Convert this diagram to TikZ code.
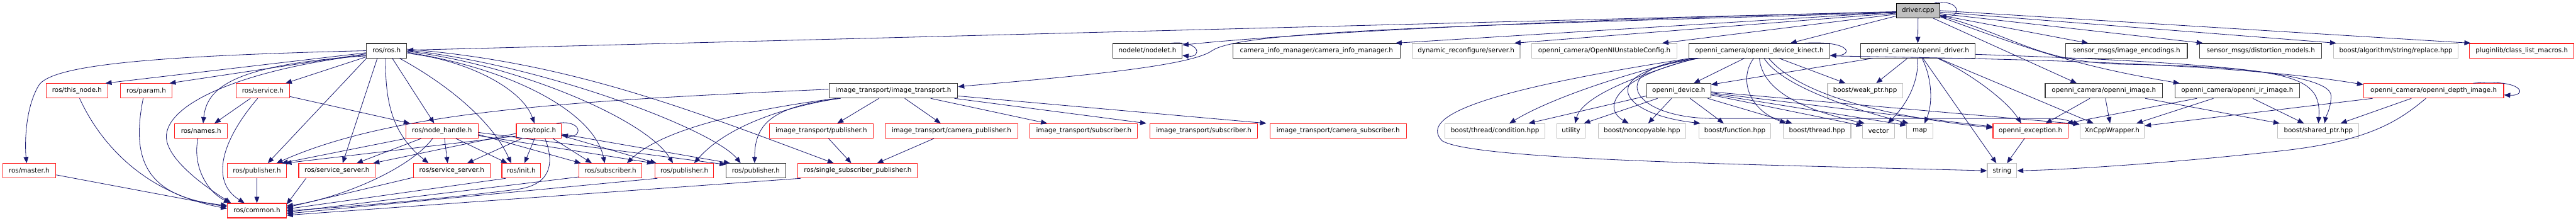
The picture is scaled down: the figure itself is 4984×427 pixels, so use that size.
\documentclass[tikz,border=0pt]{standalone}
\usepackage{fontspec}
\setmainfont{DejaVu Sans}
\usetikzlibrary{arrows.meta,calc}
\definecolor{edgeblue}{HTML}{191970}
\definecolor{nodeblack}{HTML}{3A3A3A}
\definecolor{nodegray}{HTML}{BFBFBF}
\definecolor{nodered}{HTML}{FF2020}
\definecolor{drvfill}{HTML}{BFBFBF}
\tikzset{
 nd/.style={draw, line width=1.3pt, minimum height=28pt, inner sep=0pt, anchor=center, font=\fontsize{12.6}{14}\selectfont},
 nblack/.style={nd, draw=nodeblack},
 nred/.style={nd, draw=nodered},
 ngray/.style={nd, draw=nodegray},
 e/.style={draw=edgeblue, line width=1pt, -{Triangle[length=12pt,width=9.5pt]}},
}
\begin{document}
\begin{tikzpicture}[x=1pt,y=-1pt]
\useasboundingbox (0,0) rectangle (4984,427);
% row 0
\node[nd, draw=black, fill=drvfill, minimum width=84pt] (driver) at (3711,20.5) {driver.cpp};
% row 1
\node[nblack, minimum width=78pt] (ros) at (748,98) {ros/ros.h};
\node[nblack, minimum width=134pt] (nodelet) at (2220,98) {nodelet/nodelet.h};
\node[nblack, minimum width=324pt] (cim) at (2547,98) {camera\_info\_manager/camera\_info\_manager.h};
\node[ngray, minimum width=209pt] (dyn) at (2836.5,98) {dynamic\_reconfigure/server.h};
\node[ngray, minimum width=280pt] (unst) at (3104,98) {openni\_camera/OpenNIUnstableConfig.h};
\node[nblack, minimum width=272pt] (kinect) at (3404,98) {openni\_camera/openni\_device\_kinect.h};
\node[nblack, minimum width=221pt] (odriver) at (3710.5,98) {openni\_camera/openni\_driver.h};
\node[nblack, minimum width=235pt] (enc) at (4114.5,98) {sensor\_msgs/image\_encodings.h};
\node[nblack, minimum width=236pt] (dist) at (4374,98) {sensor\_msgs/distortion\_models.h};
\node[ngray, minimum width=241pt] (repl) at (4635.5,98) {boost/algorithm/string/replace.hpp};
\node[nred, minimum width=202pt] (plug) at (4879,98) {pluginlib/class\_list\_macros.h};
% row 2
\node[nred, minimum width=120pt] (thisnode) at (149,175.5) {ros/this\_node.h};
\node[nred, minimum width=100pt] (param) at (283,175.5) {ros/param.h};
\node[nred, minimum width=103pt] (service) at (508.5,175.5) {ros/service.h};
\node[nblack, minimum width=249pt] (itrans) at (1728.5,175.5) {image\_transport/image\_transport.h};
\node[nblack, minimum width=124pt] (odev) at (3248,175.5) {openni\_device.h};
\node[ngray, minimum width=145pt] (weak) at (3608.5,175.5) {boost/weak\_ptr.hpp};
\node[nblack, minimum width=227pt] (oimg) at (4070.5,175.5) {openni\_camera/openni\_image.h};
\node[nblack, minimum width=241pt] (oir) at (4328.5,175.5) {openni\_camera/openni\_ir\_image.h};
\node[nred, minimum width=271pt] (odepth) at (4708.5,175.5) {openni\_camera/openni\_depth\_image.h};
% row 3
\node[nred, minimum width=102pt] (names) at (389,253) {ros/names.h};
\node[nred, minimum width=140pt] (nh) at (855,253) {ros/node\_handle.h};
\node[nred, minimum width=87pt] (topic) at (1042.5,253) {ros/topic.h};
\node[nred, minimum width=200pt] (itpub) at (1589,253) {image\_transport/publisher.h};
\node[nred, minimum width=256pt] (itcampub) at (1841,253) {image\_transport/camera\_publisher.h};
\node[nred, minimum width=208pt] (itsub1) at (2097,253) {image\_transport/subscriber.h};
\node[nred, minimum width=208pt] (itsub2) at (2329,253) {image\_transport/subscriber.h};
\node[nred, minimum width=264pt] (itcamsub) at (2589,253) {image\_transport/camera\_subscriber.h};
\node[ngray, minimum width=193pt] (cond) at (2892.5,253) {boost/thread/condition.hpp};
\node[ngray, minimum width=55pt] (util) at (3039.5,253) {utility};
\node[ngray, minimum width=170pt] (noncopy) at (3177,253) {boost/noncopyable.hpp};
\node[ngray, minimum width=139pt] (func) at (3356.5,253) {boost/function.hpp};
\node[ngray, minimum width=131pt] (thread) at (3515.5,253) {boost/thread.hpp};
\node[ngray, minimum width=61pt] (vector) at (3634.5,253) {vector};
\node[ngray, minimum width=51pt] (map) at (3714.5,253) {map};
\node[nred, minimum width=145pt] (exc) at (3928.5,253) {openni\_exception.h};
\node[ngray, minimum width=125pt] (xn) at (4086.5,253) {XnCppWrapper.h};
\node[ngray, minimum width=157pt] (shared) at (4485.5,253) {boost/shared\_ptr.hpp};
% row 4
\node[nred, minimum width=103pt] (master) at (56.5,330) {ros/master.h};
\node[nred, minimum width=114pt] (pub1) at (497,330) {ros/publisher.h};
\node[nred, minimum width=148pt] (ss1) at (652,330) {ros/service\_server.h};
\node[nred, minimum width=148pt] (ss2) at (874,330) {ros/service\_server.h};
\node[nred, minimum width=75pt] (init) at (1008.5,330) {ros/init.h};
\node[nred, minimum width=122pt] (sub) at (1181,330) {ros/subscriber.h};
\node[nred, minimum width=114pt] (pub2) at (1324,330) {ros/publisher.h};
\node[nblack, minimum width=115pt] (pubb) at (1462.5,330) {ros/publisher.h};
\node[nred, minimum width=231pt] (ssp) at (1659.5,330) {ros/single\_subscriber\_publisher.h};
\node[ngray, minimum width=57pt] (string) at (3873.5,330) {string};
% row 5
\node[nred, minimum width=114pt] (common) at (497,407) {ros/common.h};

% ---------- driver.cpp
\draw[e] ([xshift=32pt]driver.north) .. controls (3795,-2) and (3795,34) .. ([yshift=-11pt]driver.east);
\draw[e] ([yshift=-2pt]driver.west) -- ([yshift=1pt]ros.east);
\draw[e] ([yshift=-3pt]driver.west) .. controls (2900,40) and (2450,70) .. ([yshift=11pt]nodelet.east);
\draw[e] ([yshift=-4pt]driver.west) .. controls (2800,50) and (2400,60) .. (2345,98) .. controls (2300,130) and (2050,150) .. ([yshift=8pt]itrans.east);
\draw[e] ([yshift=-3pt]driver.west) -- ([xshift=153pt]cim.north);
\draw[e] ([yshift=-5pt]driver.west) -- ([xshift=93.5pt]dyn.north);
\draw[e] ([yshift=-7pt]driver.west) -- ([xshift=112pt]unst.north);
\draw[e] ([yshift=-10.5pt]driver.west) -- ([xshift=60pt]kinect.north);
\draw[e] (driver.south) -- (odriver.north);
\draw[e] ([yshift=-9pt]driver.east) -- ([xshift=-74.5pt]enc.north);
\draw[e] ([yshift=-6pt]driver.east) -- ([xshift=-112pt]dist.north);
\draw[e] ([yshift=-3pt]driver.east) -- ([xshift=-115.5pt]repl.north);
\draw[e] (driver.east) -- ([xshift=-99pt]plug.north);
\draw[e] ([xshift=29pt]driver.south) -- ([xshift=-52.5pt]oimg.north);
\draw[e] ([yshift=-12pt]driver.east) .. controls (3900,85) and (4000,125) .. ([xshift=-111.5pt]oir.north);
\draw[e] ([yshift=-10pt]driver.east) .. controls (3900,70) and (3940,118) .. (4100,124) .. controls (4440,130) and (4492,150) .. (shared.north);

% ---------- nodelet
\draw[e] ([xshift=45pt]nodelet.north) .. controls (2325,78) and (2325,112) .. ([yshift=-9pt]nodelet.east);

% ---------- openni_device_kinect
\draw[e] ([xshift=86pt]kinect.north) .. controls (3585,78) and (3585,108) .. ([yshift=-9pt]kinect.east);
\draw[e] ([xshift=-29pt]kinect.south) -- ([xshift=29pt]odev.north);
\draw[e] ([xshift=-130pt]kinect.south) .. controls (3150,140) and (3000,190) .. ([xshift=28pt]cond.north);
\draw[e] ([xshift=-124pt]kinect.south) .. controls (3150,150) and (3060,190) .. ([xshift=8pt]util.north);
\draw[e] ([xshift=-119pt]kinect.south) .. controls (3120,150) and (3100,210) .. ([xshift=-26pt]noncopy.north);
\draw[e] ([xshift=-114pt]kinect.south) .. controls (3080,140) and (3130,220) .. ([xshift=-67pt]func.north);
\draw[e] ([xshift=-11pt]kinect.south) .. controls (3365,150) and (3380,210) .. ([xshift=-60pt]thread.north);
\draw[e] (kinect.south) .. controls (3410,180) and (3500,215) .. ([xshift=-27pt]vector.north);
\draw[e] ([xshift=9pt]kinect.south) .. controls (3450,170) and (3600,215) .. ([xshift=-22pt]map.north);
\draw[e] ([xshift=18pt]kinect.south) .. controls (3470,170) and (3600,220) .. ([yshift=6pt]exc.west);
\draw[e] ([xshift=38pt]kinect.south) -- ([xshift=-38pt]weak.north);
\draw[e] ([xshift=-120pt]kinect.south) .. controls (3100,130) and (3150,230) .. (3320,229) -- (3940,229) .. controls (3990,229) .. ([yshift=12pt]xn.west);
\draw[e] ([xshift=-134pt]kinect.south) .. controls (2900,170) and (2740,220) .. (2790,272) .. controls (2850,310) and (3400,318) .. (string.west);
\draw[e] ([yshift=-10pt]kinect.east) .. controls (3800,113) and (4300,118) .. ([yshift=12pt]odepth.west);

% ---------- openni_device
\draw[e] ([yshift=-10pt]odev.west) -- ([xshift=65pt]cond.north);
\draw[e] ([xshift=-41pt]odev.south) -- ([xshift=25pt]util.north);
\draw[e] ([xshift=-14pt]odev.south) -- ([xshift=12pt]noncopy.north);
\draw[e] ([xshift=22pt]odev.south) -- ([xshift=-21.5pt]func.north);
\draw[e] ([xshift=56pt]odev.south) -- ([xshift=-48pt]thread.north);
\draw[e] ([yshift=-8pt]odev.east) -- ([yshift=10pt]vector.west);
\draw[e] ([yshift=-6pt]odev.east) -- ([yshift=11pt]map.west);
\draw[e] ([yshift=-4pt]odev.east) -- ([yshift=8pt]exc.west);
\draw[e] ([yshift=-2pt]odev.east) -- ([yshift=13pt]xn.west);

% ---------- openni_driver
\draw[e] ([xshift=-87pt]odriver.south) -- ([yshift=12pt]odev.east);
\draw[e] ([xshift=-20pt]odriver.south) -- ([xshift=21.5pt]weak.north);
\draw[e] (odriver.south) .. controls (3712,160) and (3690,200) .. ([xshift=18pt]vector.north);
\draw[e] ([xshift=8pt]odriver.south) .. controls (3738,150) and (3740,200) .. ([xshift=9pt]map.north);
\draw[e] ([xshift=10pt]odriver.south) -- ([xshift=-11pt]string.north);
\draw[e] ([xshift=38pt]odriver.south) .. controls (3800,135) and (3880,190) .. ([xshift=-18pt]exc.north);
\draw[e] ([xshift=40pt]odriver.south) -- ([xshift=-36pt]xn.north);
\draw[e] ([yshift=-7pt]odriver.east) .. controls (4200,118) and (4510,135) .. (4510,185) .. controls (4510,210) and (4500,225) .. ([xshift=12pt]shared.north);

% ---------- images
\draw[e] ([xshift=-27pt]oimg.south) -- ([xshift=29.5pt]exc.north);
\draw[e] ([xshift=3pt]oimg.south) -- ([xshift=-4pt]xn.north);
\draw[e] ([xshift=80pt]oimg.south) -- ([xshift=-75pt]shared.north);
\draw[e] ([xshift=-78pt]oir.south) -- ([xshift=70pt]exc.north);
\draw[e] ([xshift=-46pt]oir.south) -- ([xshift=47pt]xn.north);
\draw[e] ([xshift=30pt]oir.south) -- ([xshift=-28pt]shared.north);
\draw[e] ([xshift=77pt]odepth.north) .. controls (4885,152) and (4890,186) .. ([yshift=-8pt]odepth.east);
\draw[e] ([xshift=-118pt]odepth.south) -- ([yshift=10pt]xn.east);
\draw[e] ([xshift=-43pt]odepth.south) -- ([xshift=43pt]shared.north);
\draw[e] ([xshift=-15pt]odepth.south) .. controls (4640,235) and (4580,275) .. (4400,293) .. controls (4200,315) and (4000,328) .. (string.east);
\draw[e] ([xshift=-11.5pt]exc.south) -- ([xshift=9.5pt]string.north);

% ---------- ros/ros.h
\draw[e] (ros.west) .. controls (300,108) and (100,125) .. (75,165) .. controls (48,210) and (48,280) .. ([xshift=-5pt]master.north);
\draw[e] ([yshift=-4pt]ros.west) -- ([xshift=55pt]thisnode.north);
\draw[e] ([yshift=-6pt]ros.west) -- ([xshift=45pt]param.north);
\draw[e] ([yshift=-8pt]ros.west) .. controls (500,130) and (330,190) .. (322,260) .. controls (318,300) and (380,350) .. ([xshift=-50pt]common.north);
\draw[e] ([yshift=-10pt]ros.west) .. controls (450,125) and (400,170) .. ([xshift=4pt]names.north);
\draw[e] ([yshift=-12pt]ros.west) -- ([xshift=44pt]service.north);
\draw[e] ([xshift=-39pt]ros.south) -- ([xshift=21pt]pub1.north);
\draw[e] ([xshift=-18pt]ros.south) -- ([xshift=11pt]ss1.north);
\draw[e] ([xshift=11pt]ros.south) -- ([xshift=-15pt]nh.north);
\draw[e] ([xshift=-2pt]ros.south) .. controls (745,200) and (760,260) .. ([xshift=-45pt]ss2.north);
\draw[e] ([xshift=25pt]ros.south) .. controls (860,160) and (950,230) .. ([xshift=-19.5pt]init.north);
\draw[e] ([yshift=-5pt]ros.east) .. controls (900,115) and (1010,170) .. ([xshift=-8.5pt]topic.north);
\draw[e] ([yshift=-3pt]ros.east) .. controls (1000,135) and (1150,220) .. ([xshift=-11pt]sub.north);
\draw[e] ([yshift=-1pt]ros.east) .. controls (1000,125) and (1250,230) .. ([xshift=-22pt]pub2.north);
\draw[e] ([yshift=1pt]ros.east) .. controls (1050,125) and (1380,250) .. ([xshift=-29.5pt]pubb.north);
\draw[e] ([yshift=3pt]ros.east) .. controls (1100,120) and (1330,210) .. ([xshift=-46.5pt]ssp.north);

% ---------- ros headers
\draw[e] ([xshift=-24pt]service.south) -- ([xshift=26pt]names.north);
\draw[e] ([xshift=-10pt]service.south) .. controls (430,270) and (405,350) .. ([xshift=-24pt]common.north);
\draw[e] ([yshift=-11pt]service.east) -- ([xshift=-62pt]nh.north);
\draw[e] ([xshift=5pt]thisnode.south) .. controls (200,290) and (290,375) .. ([yshift=4pt]common.west);
\draw[e] ([xshift=-6pt]param.south) .. controls (255,300) and (275,380) .. ([yshift=10pt]common.west);
\draw[e] ([xshift=-6pt]names.south) .. controls (372,320) and (400,370) .. ([xshift=-52pt]common.north);
\draw[e] ([yshift=-8pt]master.east) -- ([yshift=7pt]common.west);
\draw[e] (pub1) -- (common);
\draw[e] ([xshift=-60pt]ss1.south) -- ([yshift=12pt]common.east);
\draw[e] ([xshift=-18pt]nh.south) .. controls (790,330) and (650,385) .. ([yshift=9pt]common.east);
\draw[e] ([yshift=-13pt]ss2.west) -- ([yshift=6pt]common.east);
\draw[e] ([xshift=-30pt]init.south) -- ([yshift=3pt]common.east);
\draw[e] ([xshift=12pt]topic.south) .. controls (1075,320) and (1062,358) .. (1000,366) .. controls (850,385) and (650,402) .. (common.east);
\draw[e] ([yshift=-12pt]sub.west) -- ([yshift=-3pt]common.east);
\draw[e] ([xshift=-52pt]pub2.south) -- ([yshift=-6pt]common.east);
\draw[e] ([xshift=-110pt]ssp.south) -- ([yshift=-9pt]common.east);

% ---------- node_handle
\draw[e] ([xshift=-40pt]nh.south) -- ([xshift=38pt]ss1.north);
\draw[e] ([xshift=5pt]nh.south) -- ([xshift=-8pt]ss2.north);
\draw[e] ([xshift=27pt]nh.south) -- ([xshift=-27pt]init.north);
\draw[e] ([yshift=-7pt]nh.east) -- ([xshift=-57pt]sub.north);
\draw[e] ([yshift=-9pt]nh.east) -- ([xshift=-60pt]pub2.north);
\draw[e] ([yshift=-3pt]nh.east) -- ([yshift=12pt]pubb.west);
\draw[e] ([xshift=-70pt]nh.south) -- ([xshift=48pt]pub1.north);

% ---------- topic
\draw[e] ([xshift=34pt]topic.north) .. controls (1128,230) and (1128,268) .. ([yshift=-8pt]topic.east);
\draw[e] ([yshift=-5pt]topic.west) -- ([xshift=70pt]ss1.north);
\draw[e] ([yshift=-10pt]topic.west) -- ([xshift=55pt]pub1.north);
\draw[e] ([xshift=-33pt]topic.south) -- ([xshift=30pt]ss2.north);
\draw[e] ([xshift=-8pt]topic.south) -- ([xshift=6pt]init.north);
\draw[e] ([xshift=27pt]topic.south) -- ([xshift=-36pt]sub.north);
\draw[e] ([yshift=-9pt]topic.east) -- ([xshift=-54pt]pub2.north);
\draw[e] ([yshift=-6pt]topic.east) -- ([xshift=-50pt]pubb.north);

% ---------- image_transport
\draw[e] ([yshift=3pt]itrans.west) .. controls (1100,195) and (760,215) .. ([xshift=38pt]pub1.north);
\draw[e] ([xshift=-110pt]itrans.south) .. controls (1500,205) and (1290,240) .. ([xshift=32pt]sub.north);
\draw[e] ([xshift=-106pt]itrans.south) .. controls (1500,210) and (1400,250) .. ([xshift=19pt]pub2.north);
\draw[e] ([xshift=-102pt]itrans.south) .. controls (1500,205) and (1460,235) .. ([xshift=-2.5pt]pubb.north);
\draw[e] ([xshift=-28pt]itrans.south) -- ([xshift=31pt]itpub.north);
\draw[e] ([xshift=22pt]itrans.south) -- ([xshift=-21pt]itcampub.north);
\draw[e] ([xshift=72pt]itrans.south) -- ([xshift=-71pt]itsub1.north);
\draw[e] ([xshift=118pt]itrans.south) -- ([xshift=-111pt]itsub2.north);
\draw[e] ([yshift=-10pt]itrans.east) -- ([xshift=-139pt]itcamsub.north);
\draw[e] ([xshift=14pt]itpub.south) -- ([xshift=-12.5pt]ssp.north);
\draw[e] ([xshift=-34pt]itcampub.south) -- ([xshift=37.5pt]ssp.north);
\end{tikzpicture}
\end{document}
